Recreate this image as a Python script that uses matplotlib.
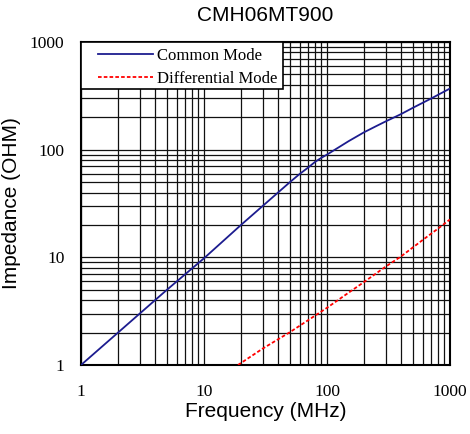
import matplotlib.pyplot as plt
from matplotlib.patches import Rectangle
from matplotlib.ticker import LogLocator, NullFormatter, FixedLocator

# Common mode impedance
cm_freq = [1, 2, 3, 5, 10, 20, 40, 50, 60, 70, 80, 90, 100, 116, 150, 200, 250, 300, 400, 500, 700, 1000]
cm_imp = [1.0, 2.0, 3.0, 5.0, 9.8, 20, 40, 50, 59.5, 68, 77, 84, 90, 100, 120, 145, 165, 183, 214, 245, 298, 370]

# Differential mode impedance
dm_freq = [18.9, 30, 50, 70, 100, 150, 200, 300, 400, 600, 800, 1000]
dm_imp = [1.0, 1.42, 2.02, 2.6, 3.4, 4.7, 5.9, 8.2, 10.2, 14.5, 18.5, 22.5]

xticks = [1, 10, 100, 1000]
yticks = [1, 10, 100, 1000]

fig = plt.figure(figsize=(4.7, 4.34), dpi=100)
ax = fig.add_axes([81/470, 1-365/434, (450-81)/470, (365-42)/434])

ax.plot(cm_freq, cm_imp, color="#1c1c8f", lw=1.3, label="Common Mode", zorder=3)
ax.plot(dm_freq, dm_imp, color="red", lw=1.3, linestyle=(0, (2, 1.2)),
        label="Differential Mode", zorder=3)

ax.set_xscale("log")
ax.set_yscale("log")
ax.set_xlim(1, 1000)
ax.set_ylim(1, 1000)

ax.xaxis.set_major_locator(FixedLocator(xticks))
ax.yaxis.set_major_locator(FixedLocator(yticks))
ax.xaxis.set_minor_locator(LogLocator(base=10, subs=range(2, 10)))
ax.yaxis.set_minor_locator(LogLocator(base=10, subs=range(2, 10)))
ax.xaxis.set_minor_formatter(NullFormatter())
ax.yaxis.set_minor_formatter(NullFormatter())
ax.set_xticklabels([str(t) for t in xticks], family="Liberation Serif", fontsize=12.5)
ax.set_yticklabels([str(t) for t in yticks], family="Liberation Serif", fontsize=12.5)
ax.tick_params(which="both", length=0)
ax.tick_params(axis="x", pad=14)
ax.tick_params(axis="y", pad=12)

ax.grid(True, which="both", color="#111111", lw=0.9)
for s in ax.spines.values():
    s.set_linewidth(1.5)
    s.set_color("black")

ax.set_title("CMH06MT900", family="Liberation Sans", fontsize=15, pad=15)
ax.set_xlabel("Frequency (MHz)", family="Liberation Sans", fontsize=15, labelpad=1)
ax.set_ylabel("Impedance (OHM)", family="Liberation Sans", fontsize=15, labelpad=6)

# legend frame drawn by hand so the padding matches the reference
ax.add_patch(Rectangle((0, 1), 202/369, -47/323, transform=ax.transAxes,
                       facecolor="white", edgecolor="black", lw=1.2, zorder=4))
leg = ax.legend(loc="upper left", bbox_to_anchor=(12/369, 1 - 1/323),
                prop={"family": "Liberation Serif", "size": 12},
                handlelength=3.3, borderaxespad=0, frameon=False,
                borderpad=0.3, labelspacing=0.4, handletextpad=0.25)
leg.set_zorder(5)

fig.savefig("out.png", dpi=100)
